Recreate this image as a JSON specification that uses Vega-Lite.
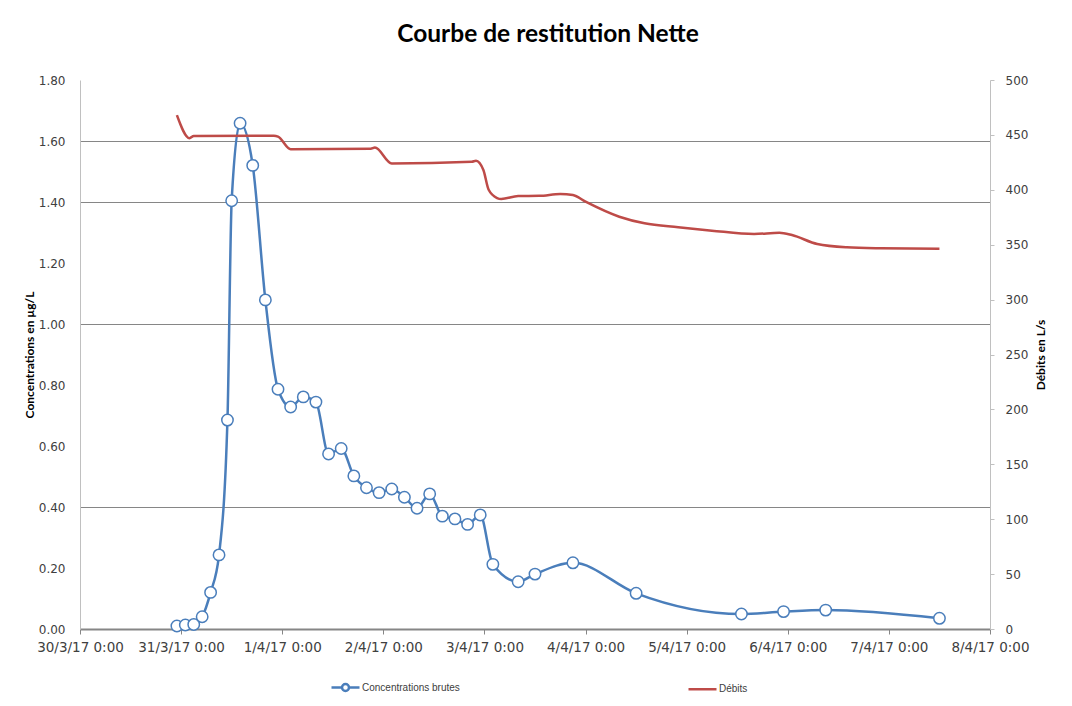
{
  "$schema": "https://vega.github.io/schema/vega-lite/v6.json",
  "width": 910,
  "height": 549,
  "autosize": {"type": "none"},
  "padding": {"left": 80, "top": 80, "right": 82, "bottom": 77},
  "background": "white",
  "title": {
    "text": "Courbe de restitution Nette",
    "font": "Lato",
    "fontSize": 24.5,
    "fontWeight": "bold",
    "color": "#000000",
    "offset": 27,
    "dx": 13
  },
  "config": {
    "view": {"stroke": null},
    "axis": {
      "labelFont": "DejaVu Sans",
      "labelFontSize": 12,
      "labelColor": "#404040",
      "titleFont": "Lato",
      "titleFontSize": 12,
      "titleFontWeight": "bold",
      "titleColor": "#000000"
    }
  },
  "datasets": {
    "conc": [
      {"t": "2017-03-30T23:00", "c": 0.01},
      {"t": "2017-03-31T01:00", "c": 0.013},
      {"t": "2017-03-31T03:00", "c": 0.015},
      {"t": "2017-03-31T05:00", "c": 0.04},
      {"t": "2017-03-31T07:00", "c": 0.12},
      {"t": "2017-03-31T09:00", "c": 0.243},
      {"t": "2017-03-31T11:00", "c": 0.685},
      {"t": "2017-03-31T12:00", "c": 1.404},
      {"t": "2017-03-31T14:00", "c": 1.658},
      {"t": "2017-03-31T17:00", "c": 1.52},
      {"t": "2017-03-31T20:00", "c": 1.079},
      {"t": "2017-03-31T23:00", "c": 0.786},
      {"t": "2017-04-01T02:00", "c": 0.728},
      {"t": "2017-04-01T05:00", "c": 0.761},
      {"t": "2017-04-01T08:00", "c": 0.744},
      {"t": "2017-04-01T11:00", "c": 0.574},
      {"t": "2017-04-01T14:00", "c": 0.592},
      {"t": "2017-04-01T17:00", "c": 0.502},
      {"t": "2017-04-01T20:00", "c": 0.463},
      {"t": "2017-04-01T23:00", "c": 0.447},
      {"t": "2017-04-02T02:00", "c": 0.459},
      {"t": "2017-04-02T05:00", "c": 0.432},
      {"t": "2017-04-02T08:00", "c": 0.396},
      {"t": "2017-04-02T11:00", "c": 0.443},
      {"t": "2017-04-02T14:00", "c": 0.37},
      {"t": "2017-04-02T17:00", "c": 0.361},
      {"t": "2017-04-02T20:00", "c": 0.343},
      {"t": "2017-04-02T23:00", "c": 0.374},
      {"t": "2017-04-03T02:00", "c": 0.212},
      {"t": "2017-04-03T08:00", "c": 0.155},
      {"t": "2017-04-03T12:00", "c": 0.18},
      {"t": "2017-04-03T21:00", "c": 0.217},
      {"t": "2017-04-04T12:00", "c": 0.117},
      {"t": "2017-04-05T13:00", "c": 0.049},
      {"t": "2017-04-05T23:00", "c": 0.057},
      {"t": "2017-04-06T09:00", "c": 0.062},
      {"t": "2017-04-07T12:00", "c": 0.035}
    ],
    "debit": [
      {"t": "2017-03-30T23:00", "q": 468},
      {"t": "2017-03-31T02:00", "q": 447},
      {"t": "2017-03-31T03:00", "q": 449},
      {"t": "2017-03-31T22:00", "q": 449.3},
      {"t": "2017-03-31T23:00", "q": 448.5},
      {"t": "2017-04-01T02:00", "q": 437},
      {"t": "2017-04-01T21:00", "q": 437.4},
      {"t": "2017-04-01T22:00", "q": 438.5},
      {"t": "2017-04-02T02:00", "q": 424},
      {"t": "2017-04-02T21:00", "q": 425.5},
      {"t": "2017-04-02T22:00", "q": 426.5},
      {"t": "2017-04-02T23:45", "q": 418},
      {"t": "2017-04-03T01:00", "q": 400},
      {"t": "2017-04-03T03:00", "q": 392.5},
      {"t": "2017-04-03T04:00", "q": 391.6},
      {"t": "2017-04-03T08:00", "q": 394.3},
      {"t": "2017-04-03T13:00", "q": 394.5},
      {"t": "2017-04-03T18:00", "q": 396.2},
      {"t": "2017-04-03T21:00", "q": 395.3},
      {"t": "2017-04-04T00:00", "q": 389.2},
      {"t": "2017-04-04T08:00", "q": 375.5},
      {"t": "2017-04-04T14:00", "q": 369.5},
      {"t": "2017-04-04T22:00", "q": 365.9},
      {"t": "2017-04-05T06:00", "q": 362.8},
      {"t": "2017-04-05T16:00", "q": 359.7},
      {"t": "2017-04-05T22:00", "q": 360.9},
      {"t": "2017-04-06T01:00", "q": 358.8},
      {"t": "2017-04-06T07:00", "q": 350.6},
      {"t": "2017-04-06T14:00", "q": 347.6},
      {"t": "2017-04-06T22:00", "q": 346.7},
      {"t": "2017-04-07T12:00", "q": 346.2}
    ]
  },
  "encoding": {
    "x": {
      "field": "t",
      "type": "temporal",
      "scale": {
        "domain": [
          {"year": 2017, "month": 3, "date": 30, "hours": 0},
          {"year": 2017, "month": 4, "date": 8, "hours": 0}
        ]
      },
      "axis": {
        "title": null,
        "format": "%-d/%-m/%y %-H:%M",
        "tickCount": {"interval": "day", "step": 1},
        "grid": false,
        "domainColor": "#868686",
        "domainWidth": 2,
        "tickColor": "#868686",
        "tickSize": 5,
        "labelPadding": 6,
        "labelFontSize": 13.5,
        "labelFlush": false,
        "labelOverlap": false
      }
    }
  },
  "layer": [
    {
      "data": {"name": "conc"},
      "encoding": {
        "y": {
          "field": "c",
          "type": "quantitative",
          "scale": {"domain": [0, 1.8], "nice": false},
          "axis": {
            "orient": "left",
            "title": "Concentrations en µg/L",
            "values": [0, 0.2, 0.4, 0.6, 0.8, 1.0, 1.2, 1.4, 1.6, 1.8],
            "format": ".2f",
            "ticks": false,
            "domainColor": "#c0c0c0",
            "labelPadding": 15,
            "titlePadding": 2,
            "grid": true,
            "gridColor": "#868686",
            "gridWidth": 1,
            "gridOpacity": {
              "condition": {
                "test": "abs(datum.value-0.4)<0.001 || abs(datum.value-1)<0.001 || abs(datum.value-1.4)<0.001 || abs(datum.value-1.6)<0.001",
                "value": 1
              },
              "value": 0
            }
          }
        }
      },
      "layer": [
        {
          "mark": {"type": "line", "interpolate": "monotone", "strokeWidth": 2.5},
          "encoding": {
            "color": {
              "datum": "Concentrations brutes",
              "scale": {
                "domain": ["Concentrations brutes", "Débits"],
                "range": ["#4a7ebb", "#be4b48"]
              },
              "legend": {
                "title": null,
                "orient": "none",
                "legendX": 250,
                "legendY": 592,
                "direction": "horizontal",
                "columnPadding": 223,
                "labelFont": "Liberation Sans",
                "labelFontSize": 10,
                "labelColor": "#404040",
                "labelOffset": 1,
                "symbolSize": 784,
                "encode": {
                  "symbols": {
                    "update": {
                      "shape": {
                        "signal": "datum.value === 'Débits' ? 'M-1,0H1' : 'M-1,0H-0.25M0.25,0H1M-0.25,0A0.25,0.25,0,1,1,0.25,0A0.25,0.25,0,1,1,-0.25,0'"
                      },
                      "fill": {"value": "white"},
                      "strokeWidth": {"value": 2.5}
                    }
                  }
                }
              }
            }
          }
        },
        {
          "mark": {
            "type": "point",
            "filled": true,
            "fill": "white",
            "stroke": "#4a7ebb",
            "strokeWidth": 1.5,
            "size": 130,
            "opacity": 1
          }
        }
      ]
    },
    {
      "data": {"name": "debit"},
      "mark": {"type": "line", "interpolate": "monotone", "strokeWidth": 2.5},
      "encoding": {
        "y": {
          "field": "q",
          "type": "quantitative",
          "scale": {"domain": [0, 500], "nice": false},
          "axis": {
            "orient": "right",
            "title": "Débits en L/s",
            "titleAngle": -90,
            "values": [0, 50, 100, 150, 200, 250, 300, 350, 400, 450, 500],
            "format": "d",
            "grid": false,
            "ticks": true,
            "tickSize": 4,
            "tickColor": "#c0c0c0",
            "domainColor": "#c0c0c0",
            "labelPadding": 11,
            "titlePadding": 20
          }
        },
        "color": {"datum": "Débits"}
      }
    }
  ],
  "resolve": {"scale": {"y": "independent"}}
}
